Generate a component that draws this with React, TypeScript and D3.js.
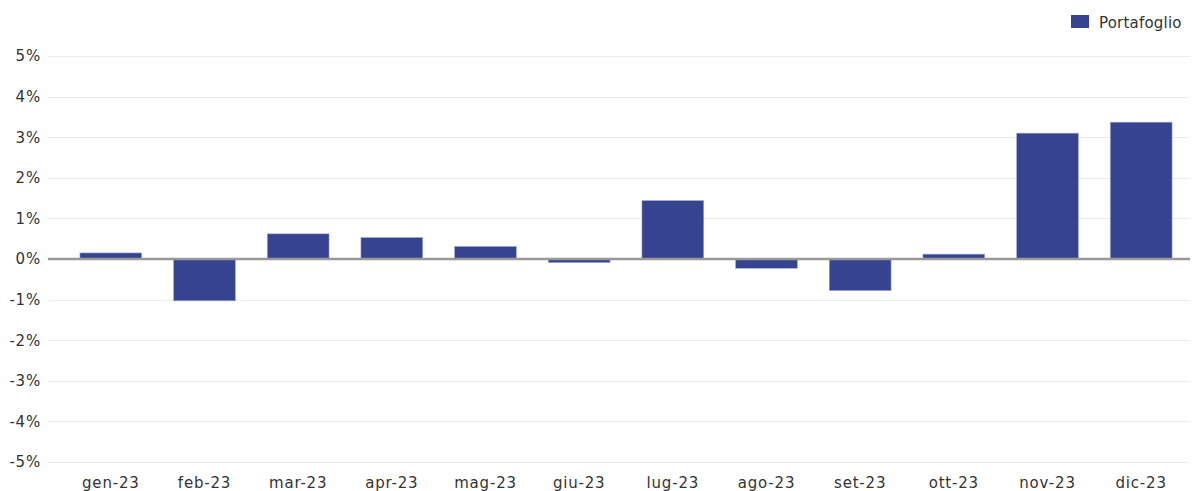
import React from 'react';
import * as d3 from 'd3';

const months = ['gen-23', 'feb-23', 'mar-23', 'apr-23', 'mag-23', 'giu-23', 'lug-23', 'ago-23', 'set-23', 'ott-23', 'nov-23', 'dic-23'];
const portafoglio = [0.15, -1.03, 0.62, 0.53, 0.31, -0.09, 1.44, -0.23, -0.78, 0.12, 3.1, 3.37];
const yTicks = [5, 4, 3, 2, 1, 0, -1, -2, -3, -4, -5];
const seriesName = 'Portafoglio';

const width = 1198;
const height = 491;
const gridLeft = 48;
const gridRight = 1190;
const barColor = '#364391';
const font = '"DejaVu Sans", Verdana, sans-serif';

const App: React.FC = () => {
  const x = d3.scaleBand<string>()
    .domain(months)
    .range([64, 1188])
    .paddingInner(0.34)
    .paddingOuter(0.17);

  const y = d3.scaleLinear()
    .domain([-5, 5])
    .range([462, 56]);

  return (
    <svg
      width={width}
      height={height}
      style={{ position: 'absolute', left: 0, top: 0, background: '#fff' }}
      fontFamily={font}
    >
      {/* grid */}
      {yTicks.filter(t => t !== 0).map(t => (
        <line
          key={`grid-${t}`}
          x1={gridLeft}
          x2={gridRight}
          y1={Math.round(y(t)) + 0.5}
          y2={Math.round(y(t)) + 0.5}
          stroke="#ececec"
        />
      ))}

      {/* y labels */}
      {yTicks.map(t => (
        <text
          key={`yl-${t}`}
          x={41}
          y={y(t)}
          dy="0.36em"
          textAnchor="end"
          fontSize={15}
          letterSpacing={0.8}
          fill="#333"
        >
          {`${t}%`}
        </text>
      ))}

      {/* bars */}
      {portafoglio.map((v, i) => (
        <rect
          key={`bar-${i}`}
          x={x(months[i])}
          y={y(Math.max(0, v))}
          width={x.bandwidth()}
          height={Math.abs(y(v) - y(0))}
          fill={barColor}
          stroke="#a9b0d6"
          strokeWidth={0.6}
        />
      ))}

      {/* zero line */}
      <line x1={gridLeft} x2={gridRight} y1={y(0)} y2={y(0)} stroke="#999" strokeWidth={2.5} />

      {/* x labels */}
      {months.map(m => (
        <text
          key={`xl-${m}`}
          x={(x(m) || 0) + x.bandwidth() / 2}
          y={488}
          textAnchor="middle"
          fontSize={15}
          letterSpacing={0.8}
          fill="#333"
        >
          {m}
        </text>
      ))}

      {/* legend */}
      <rect x={1071} y={15} width={18} height={13} fill={barColor} />
      <text x={1099} y={28} fontSize={15} letterSpacing={0.2} fill="#333">{seriesName}</text>
    </svg>
  );
};

export default App;
